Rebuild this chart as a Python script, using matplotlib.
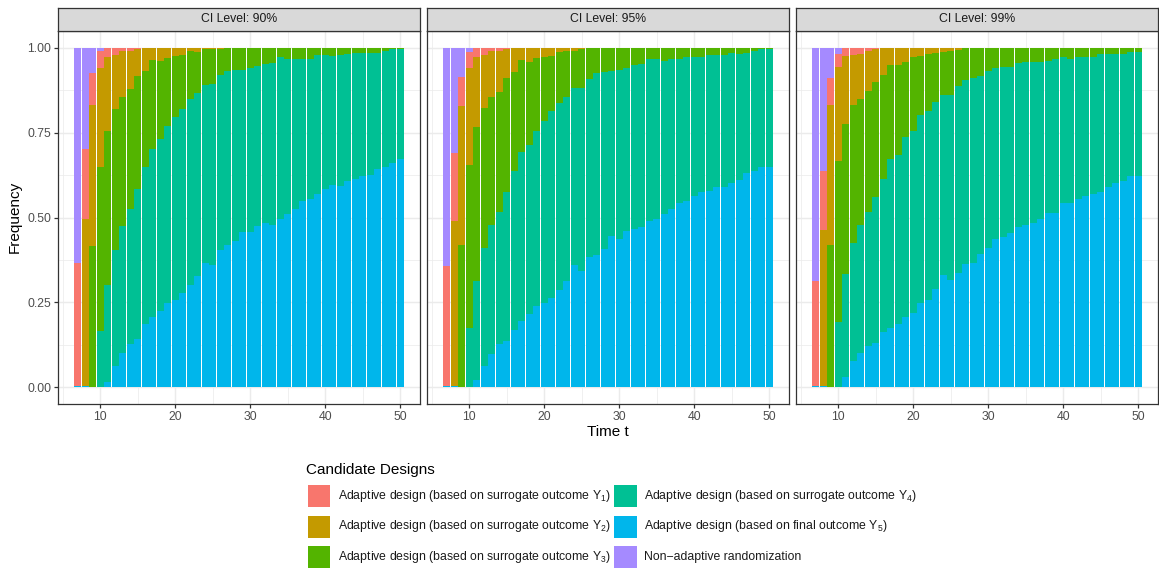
import numpy as np
import matplotlib.pyplot as plt
from matplotlib.patches import Rectangle

plt.rcParams['font.family'] = ['Liberation Sans', 'DejaVu Sans']
plt.rcParams['mathtext.fontset'] = 'custom'
plt.rcParams['mathtext.rm'] = 'Liberation Sans'
plt.rcParams['mathtext.default'] = 'regular'

# time points on the x axis
time_t = list(range(7, 51))

ci_levels = ['90%', '95%', '99%']
design_labels = [
    'Adaptive design (based on surrogate outcome $Y_1$)',
    'Adaptive design (based on surrogate outcome $Y_2$)',
    'Adaptive design (based on surrogate outcome $Y_3$)',
    'Adaptive design (based on surrogate outcome $Y_4$)',
    'Adaptive design (based on final outcome $Y_5$)',
    'Non\u2212adaptive randomization',
]
design_colors = ['#F8766D', '#C49A00', '#53B400', '#00C094', '#00B6EB', '#A58AFF']

# selection frequency of each design, CI level 90%
y1_90 = [.363, .205, .093, .049, .028, .021, .009, .009, .004, 0, 0, 0, 0, 0, 0,
         0, 0, 0, 0, 0, 0, 0, 0, 0, 0, 0, 0, 0, 0, 0, 0, 0, 0, 0, 0, 0, 0, 0, 0,
         0, 0, 0, 0, 0]
y2_90 = [0, .494, .417, .294, .216, .159, .137, .113, .080, .067, .035, .038, .029,
         .024, .021, .009, .011, .004, .004, .004, 0, 0, 0, 0, 0, 0, 0, 0, 0, 0,
         0, 0, 0, 0, 0, 0, 0, 0, 0, 0, 0, 0, 0, 0]
y3_90 = [0, 0, .415, .482, .454, .417, .378, .353, .332, .283, .263, .231, .202,
         .179, .159, .142, .123, .106, .101, .076, .068, .064, .064, .058, .053,
         .047, .045, .028, .034, .034, .032, .032, .021, .021, .023, .021, .017,
         .015, .015, .015, .015, .009, .004, .004]
y4_90 = [0, 0, 0, .166, .286, .341, .375, .399, .441, .463, .495, .506, .521, .541,
         .543, .547, .539, .523, .534, .517, .514, .506, .48, .486, .473, .468,
         .476, .475, .457, .441, .42, .412, .411, .396, .38, .385, .374, .372,
         .364, .36, .343, .341, .336, .324]
y5_90 = [.003, .003, 0, 0, .016, .062, .101, .126, .143, .187, .207, .225, .248,
         .256, .277, .302, .327, .367, .361, .403, .418, .43, .456, .456, .474,
         .485, .479, .497, .509, .525, .548, .556, .568, .583, .597, .594, .609,
         .613, .621, .625, .642, .65, .66, .672]
nonadaptive_90 = [.634, .298, .075, .009, 0, 0, 0, 0, 0, 0, 0, 0, 0, 0, 0, 0, 0,
                  0, 0, 0, 0, 0, 0, 0, 0, 0, 0, 0, 0, 0, 0, 0, 0, 0, 0, 0, 0, 0,
                  0, 0, 0, 0, 0, 0]

# CI level 95%
y1_95 = [.353, .2, .085, .047, .026, .021, .009, .009, .004, 0, 0, 0, 0, 0, 0, 0,
         0, 0, 0, 0, 0, 0, 0, 0, 0, 0, 0, 0, 0, 0, 0, 0, 0, 0, 0, 0, 0, 0, 0, 0,
         0, 0, 0, 0]
y2_95 = [0, .486, .411, .286, .208, .157, .137, .122, .086, .071, .035, .041, .031,
         .026, .024, .011, .01, .008, .004, 0, 0, 0, 0, 0, 0, 0, 0, 0, 0, 0, 0,
         0, 0, 0, 0, 0, 0, 0, 0, 0, 0, 0, 0, 0]
y3_95 = [0, 0, .418, .481, .454, .412, .375, .354, .335, .293, .273, .244, .215,
         .189, .161, .152, .136, .109, .113, .092, .075, .071, .069, .065, .058,
         .051, .047, .034, .034, .038, .032, .032, .028, .028, .028, .021, .021,
         .021, .015, .017, .015, .009, .004, .004]
y4_95 = [0, 0, 0, .175, .292, .348, .382, .389, .439, .468, .497, .501, .516, .537,
         .553, .552, .541, .524, .541, .525, .537, .522, .487, .497, .482, .483,
         .481, .477, .471, .453, .443, .426, .422, .41, .398, .4, .388, .388,
         .382, .373, .355, .355, .348, .348]
y5_95 = [.003, .003, 0, 0, .02, .062, .097, .126, .136, .168, .195, .214, .238,
         .248, .262, .285, .313, .359, .342, .383, .388, .407, .444, .438, .46,
         .466, .472, .489, .495, .509, .525, .542, .55, .562, .574, .579, .591,
         .591, .603, .61, .63, .636, .648, .648]
nonadaptive_95 = [.644, .311, .086, .011, 0, 0, 0, 0, 0, 0, 0, 0, 0, 0, 0, 0, 0,
                  0, 0, 0, 0, 0, 0, 0, 0, 0, 0, 0, 0, 0, 0, 0, 0, 0, 0, 0, 0, 0,
                  0, 0, 0, 0, 0, 0]

# CI level 99%
y1_99 = [.31, .174, .08, .039, .024, .021, .017, .009, .004, 0, 0, 0, 0, 0, 0, 0,
         0, 0, 0, 0, 0, 0, 0, 0, 0, 0, 0, 0, 0, 0, 0, 0, 0, 0, 0, 0, 0, 0, 0, 0,
         0, 0, 0, 0]
y2_99 = [0, .459, .414, .276, .199, .147, .133, .119, .095, .079, .05, .05, .04,
         .028, .024, .017, .015, .011, .009, .006, 0, 0, 0, 0, 0, 0, 0, 0, 0, 0,
         0, 0, 0, 0, 0, 0, 0, 0, 0, 0, 0, 0, 0, 0]
y3_99 = [0, 0, .418, .477, .445, .406, .373, .357, .341, .308, .278, .265, .222,
         .216, .174, .169, .144, .128, .13, .106, .094, .088, .082, .069, .059,
         .057, .057, .045, .041, .041, .041, .038, .034, .028, .032, .026, .028,
         .026, .017, .017, .017, .017, .011, .011]
y4_99 = [0, 0, 0, .191, .302, .349, .376, .394, .43, .451, .498, .5, .531, .537,
         .554, .558, .553, .531, .546, .552, .544, .546, .527, .522, .505, .501,
         .489, .484, .48, .474, .464, .449, .453, .43, .426, .42, .41, .406, .409,
         .392, .38, .374, .368, .368]
y5_99 = [.003, .003, 0, 0, .03, .077, .101, .121, .13, .162, .174, .185, .207,
         .219, .248, .256, .288, .33, .315, .336, .362, .366, .391, .409, .436,
         .442, .454, .471, .479, .485, .495, .513, .513, .542, .542, .554, .562,
         .568, .574, .591, .603, .609, .621, .621]
nonadaptive_99 = [.687, .364, .088, .017, 0, 0, 0, 0, 0, 0, 0, 0, 0, 0, 0, 0, 0,
                  0, 0, 0, 0, 0, 0, 0, 0, 0, 0, 0, 0, 0, 0, 0, 0, 0, 0, 0, 0, 0,
                  0, 0, 0, 0, 0, 0]

freq = {
    '90%': [y1_90, y2_90, y3_90, y4_90, y5_90, nonadaptive_90],
    '95%': [y1_95, y2_95, y3_95, y4_95, y5_95, nonadaptive_95],
    '99%': [y1_99, y2_99, y3_99, y4_99, y5_99, nonadaptive_99],
}
# bottom-to-top stacking order
stack_order = [4, 3, 2, 1, 0, 5]

W, H = 1159, 569
fig = plt.figure(figsize=(W / 100, H / 100), dpi=100)


def box(x0, y0, w, h):
    # pixel box (from top-left) -> figure fraction rect
    return [x0 / W, 1 - (y0 + h) / H, w / W, h / H]


dark = '#333333'
panel_left = [58, 427, 796]
for i, level in enumerate(ci_levels):
    ax = fig.add_axes(box(panel_left[i], 31, 362, 373))
    bottom = np.zeros(len(time_t))
    for k in stack_order:
        vals = np.array(freq[level][k])
        ax.bar(time_t, vals, width=0.9, bottom=bottom, color=design_colors[k],
               linewidth=0, zorder=2)
        bottom += vals

    ax.set_xlim(4.35, 52.65)
    ax.set_ylim(-0.05, 1.05)
    ax.set_xticks([10, 20, 30, 40, 50])
    ax.set_xticks([5, 15, 25, 35, 45], minor=True)
    ax.set_yticks([0, 0.25, 0.5, 0.75, 1.0])
    ax.set_yticks([0.125, 0.375, 0.625, 0.875], minor=True)
    ax.grid(which='major', color='#EBEBEB', linewidth=1.07, zorder=0)
    ax.grid(which='minor', color='#EBEBEB', linewidth=0.53, zorder=0)
    ax.set_axisbelow(True)
    ax.tick_params(which='minor', length=0)
    ax.tick_params(which='major', length=2.7, width=0.9, color=dark,
                   labelsize=8.8, labelcolor='#4D4D4D', pad=2)
    if i == 0:
        ax.set_yticklabels(['0.00', '0.25', '0.50', '0.75', '1.00'])
    else:
        ax.tick_params(axis='y', which='both', left=False, labelleft=False)
    for s in ax.spines.values():
        s.set_color(dark)
        s.set_linewidth(0.9)

    # facet strip
    sx = fig.add_axes(box(panel_left[i], 7.5, 362, 23.5))
    sx.set_facecolor('#D9D9D9')
    sx.set_xticks([])
    sx.set_yticks([])
    for s in sx.spines.values():
        s.set_color(dark)
        s.set_linewidth(0.9)
    sx.text(0.5, 0.5, 'CI Level: ' + level, ha='center', va='center',
            fontsize=8.8, color='#1A1A1A', transform=sx.transAxes)

fig.text(15 / W, 1 - 217 / H, 'Frequency', rotation=90, ha='center',
         va='center', fontsize=11)
fig.text(608 / W, 1 - 432 / H, 'Time t', ha='center', va='center', fontsize=11)

# legend
fig.text(306.5 / W, 1 - 470 / H, 'Candidate Designs', ha='left', va='center',
         fontsize=11)
key_x = [307.7, 614.3]
text_x = [337.7, 644.3]
for k in range(6):
    col, row = k // 3, k % 3
    ky = 485 + 30.5 * row
    fig.add_artist(Rectangle((key_x[col] / W, 1 - (ky + 22) / H), 22.5 / W, 22 / H,
                             transform=fig.transFigure, facecolor=design_colors[k],
                             edgecolor='none'))
    fig.text(text_x[col] / W, 1 - (ky + 11) / H, design_labels[k], ha='left',
             va='center', fontsize=8.8, color='#1A1A1A')

fig.savefig('out.png', dpi=100, facecolor='white')
